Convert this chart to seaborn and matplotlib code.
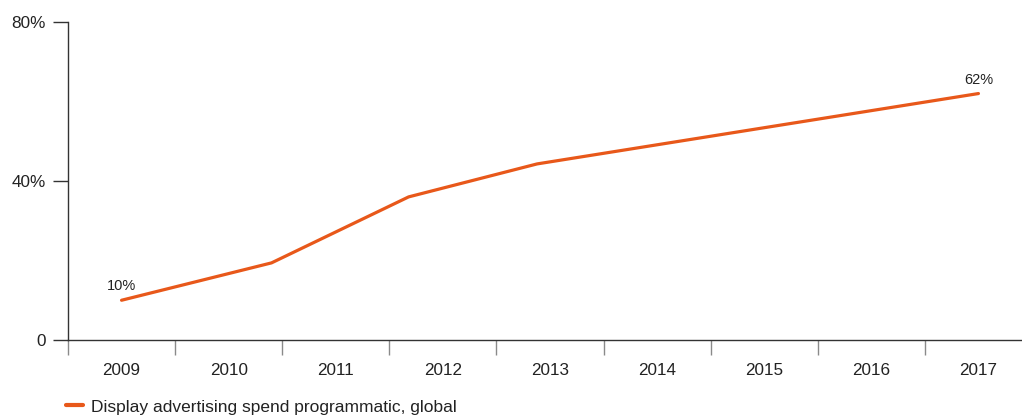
import matplotlib
matplotlib.use("Agg")
import matplotlib.pyplot as plt
from matplotlib.lines import Line2D
from matplotlib.ticker import FixedLocator
import pandas as pd
import seaborn as sns

# Category labels along the x axis
years = [2009, 2010, 2011, 2012, 2013, 2014, 2015, 2016, 2017]
# Observed points of the series (fractional year positions) and their share in %
point_year = [2009.0, 2010.4, 2011.68, 2012.88, 2017.0]
share = [10, 19.4, 36, 44.3, 62]
# Values printed next to the end points
labelled_years = [2009.0, 2017.0]
labelled_values = [10, 62]
series_name = "Display advertising spend programmatic, global"

y_ticks = [0, 40, 80]
y_tick_labels = ["0", "40%", "80%"]

ORANGE = "#e8581a"
DARK = "#333333"
GREY = "#8a8a8a"

sns.set_style("white")
plt.rcParams["font.family"] = ["Liberation Sans", "DejaVu Sans"]

df = pd.DataFrame({"year": point_year, "share": share})

fig = plt.figure(figsize=(10.22, 4.16), dpi=100)
ax = fig.add_axes([68 / 1022, 1 - 340 / 416, 964 / 1022, 318 / 416])

sns.lineplot(data=df, x="year", y="share", ax=ax, color=ORANGE,
             linewidth=2.3, label=series_name, legend=False)

ax.set_xlim(years[0] - 0.5, years[-1] + 0.5)
ax.set_ylim(y_ticks[0], y_ticks[-1])

# y axis
ax.yaxis.set_major_locator(FixedLocator(y_ticks))
ax.set_yticklabels(y_tick_labels)
ax.tick_params(axis="y", which="major", left=True, length=10.8, width=1.0,
               color=DARK, pad=5, labelsize=12.3, labelcolor="#222222")

# x axis: labels centred on categories, tick marks on the boundaries
ax.xaxis.set_major_locator(FixedLocator(years))
ax.set_xticklabels([str(y) for y in years])
ax.xaxis.set_minor_locator(FixedLocator([y - 0.5 for y in years]))
ax.tick_params(axis="x", which="major", bottom=True, length=0, pad=16.5,
               labelsize=12.3, labelcolor="#222222")
ax.tick_params(axis="x", which="minor", bottom=True, length=10.6, width=1.0,
               color=GREY)

for side in ["top", "right"]:
    ax.spines[side].set_visible(False)
for side in ["left", "bottom"]:
    ax.spines[side].set_color(DARK)
    ax.spines[side].set_linewidth(1.0)

ax.set_xlabel("")
ax.set_ylabel("")
ax.grid(False)

# Value labels above the end points
for yr, val in zip(labelled_years, labelled_values):
    ax.annotate(f"{val}%", (yr, val), xytext=(0, 5), textcoords="offset points",
                ha="center", va="bottom", fontsize=10.5, color="#222222")

# Legend below the chart
handle = Line2D([], [], color=ORANGE, linewidth=3)
fig.legend([handle], [series_name], loc="center left",
           bbox_to_anchor=(66 / 1022, 1 - 407 / 416), frameon=False,
           handlelength=1.0, handletextpad=0.42, borderpad=0,
           borderaxespad=0, fontsize=12.5, labelcolor="#222222")

fig.savefig("out.png", dpi=100)
